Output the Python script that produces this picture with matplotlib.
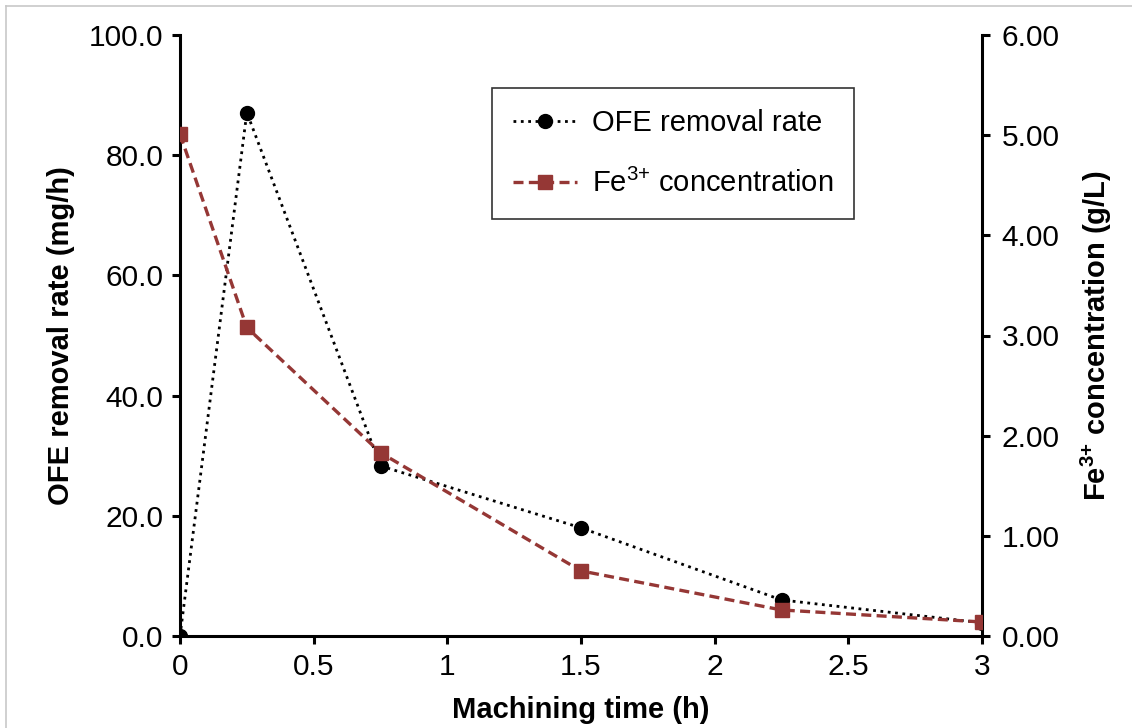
import matplotlib
matplotlib.use("Agg")
import matplotlib.pyplot as plt
from matplotlib.lines import Line2D

plt.rcParams['font.family'] = ['Liberation Sans', 'DejaVu Sans']
plt.rcParams['mathtext.fontset'] = 'custom'
plt.rcParams['mathtext.rm'] = 'Liberation Sans'
plt.rcParams['mathtext.bf'] = 'Liberation Sans:bold'

time_h = [0, 0.25, 0.75, 1.5, 2.25, 3]
ofe_rate = [0.0, 87.1, 28.3, 18.0, 6.0, 2.2]
fe_conc = [5.01, 3.08, 1.83, 0.65, 0.26, 0.14]

x_ticks = [0, 0.5, 1, 1.5, 2, 2.5, 3]
x_ticklabels = ['0', '0.5', '1', '1.5', '2', '2.5', '3']
left_ticks = [0, 20, 40, 60, 80, 100]
right_ticks = [0, 1, 2, 3, 4, 5, 6]

red = '#953735'

fig = plt.figure(figsize=(11.32, 7.28), dpi=100)
# light grey frame lines (top and left only, as in the reference crop)
fig.add_artist(Line2D([6/1132, 1], [1 - 6/728, 1 - 6/728], transform=fig.transFigure,
                      color='#c8c8c8', linewidth=1.2))
fig.add_artist(Line2D([6/1132, 6/1132], [0, 1 - 6/728], transform=fig.transFigure,
                      color='#c8c8c8', linewidth=1.2))

ax = fig.add_axes([180/1132, 1 - 636/728, 802/1132, 601/728])
ax2 = ax.twinx()

l1, = ax.plot(time_h, ofe_rate, linestyle=':', color='black', linewidth=2,
              marker='o', markersize=10, markerfacecolor='black',
              markeredgecolor='black', label='OFE removal rate', zorder=3)
l2, = ax2.plot(time_h, fe_conc, linestyle=(0, (3, 1.6)), color=red, linewidth=2.4,
               marker='s', markersize=10, markerfacecolor=red,
               markeredgecolor=red, label=r'Fe$^{3{+}}$ concentration', zorder=3)

ax.set_xlim(0, 3)
ax.set_ylim(0, 100)
ax2.set_ylim(0, 6)
ax.set_xticks(x_ticks)
ax.set_xticklabels(x_ticklabels)
ax.set_yticks(left_ticks)
ax.set_yticklabels([f'{v:.1f}' for v in left_ticks])
ax2.set_yticks(right_ticks)
ax2.set_yticklabels([f'{v:.2f}' for v in right_ticks])

for a in (ax, ax2):
    a.spines['top'].set_visible(False)
    for s in a.spines.values():
        s.set_linewidth(2.2)
    a.tick_params(direction='out', length=6, width=2.2, labelsize=21.5, pad=6)
ax2.tick_params(axis='y', pad=8)
ax.spines['right'].set_visible(False)
ax2.spines['left'].set_visible(False)
ax2.spines['bottom'].set_visible(False)

ax.set_xlabel('Machining time (h)', fontsize=21, fontweight='bold', labelpad=11)
ax.set_ylabel('OFE removal rate (mg/h)', fontsize=21, fontweight='bold', labelpad=10)
ax2.set_ylabel(r'Fe$^{\mathbf{3{+}}}$ concentration (g/L)', fontsize=21,
               fontweight='bold', rotation=90, labelpad=14)

leg = ax.legend(handles=[l1, l2], loc='upper left',
                bbox_to_anchor=((492 - 180) / 802, (636 - 88) / 601),
                borderaxespad=0,
                fontsize=21, frameon=True, fancybox=False, borderpad=0.72,
                handlelength=2.2, labelspacing=1.1, handletextpad=0.5)
leg.get_frame().set_edgecolor('black')
leg.get_frame().set_linewidth(1.2)
leg.set_zorder(5)

fig.savefig('out.png', dpi=100)
